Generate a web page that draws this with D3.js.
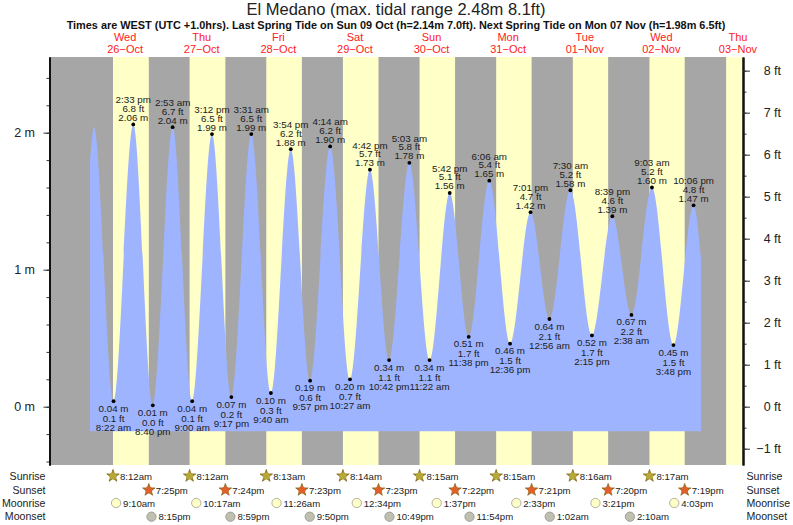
<!DOCTYPE html>
<html lang="en">

<head>
  <meta charset="UTF-8">
  <title>El Medano tide chart</title>
  <script src="https://d3js.org/d3.v7.min.js"></script>
  <style>
    html, body {
      margin: 0;
      background-color: white;
    }

    svg {
      display: block;
    }

    text {
      font-family: "Liberation Sans", Helvetica, Arial, sans-serif;
    }
  </style>
</head>

<body>
  <div id="chart"></div>

<script>
  // high and low waters (times are local WEST)
  const tideTimes = [
    "2022-10-26 08:22", "2022-10-26 14:33", "2022-10-26 20:40",
    "2022-10-27 02:53", "2022-10-27 09:00", "2022-10-27 15:12", "2022-10-27 21:17",
    "2022-10-28 03:31", "2022-10-28 09:40", "2022-10-28 15:54", "2022-10-28 21:57",
    "2022-10-29 04:14", "2022-10-29 10:27", "2022-10-29 16:42", "2022-10-29 22:42",
    "2022-10-30 05:03", "2022-10-30 11:22", "2022-10-30 17:42", "2022-10-30 23:38",
    "2022-10-31 06:06", "2022-10-31 12:36", "2022-10-31 19:01",
    "2022-11-01 00:56", "2022-11-01 07:30", "2022-11-01 14:15", "2022-11-01 20:39",
    "2022-11-02 02:38", "2022-11-02 09:03", "2022-11-02 15:48", "2022-11-02 22:06"
  ];
  const tideMetres = [
    0.04, 2.06, 0.01, 2.04, 0.04, 1.99, 0.07, 1.99, 0.10, 1.88,
    0.19, 1.90, 0.20, 1.73, 0.34, 1.78, 0.34, 1.56, 0.51, 1.65,
    0.46, 1.42, 0.64, 1.58, 0.52, 1.39, 0.67, 1.60, 0.45, 1.47
  ];
  const tideFeet = [
    0.1, 6.8, 0.0, 6.7, 0.1, 6.5, 0.2, 6.5, 0.3, 6.2,
    0.6, 6.2, 0.7, 5.7, 1.1, 5.8, 1.1, 5.1, 1.7, 5.4,
    1.5, 4.7, 2.1, 5.2, 1.7, 4.6, 2.2, 5.2, 1.5, 4.8
  ];
  // the curve starts and stops between tides, these are not labelled
  const curveStartTimes = ["2022-10-26 01:00", "2022-10-26 02:15"];
  const curveStartMetres = [1.80, 2.04];
  const curveEndTimes = ["2022-11-03 00:26"];
  const curveEndMetres = [1.08];
  const curveFloorMetres = -0.18;

  const dayNames = ["Wed", "Thu", "Fri", "Sat", "Sun", "Mon", "Tue", "Wed", "Thu"];
  const dayDates = ["26−Oct", "27−Oct", "28−Oct", "29−Oct", "30−Oct", "31−Oct", "01−Nov", "02−Nov", "03−Nov"];
  const dayNoons = [
    "2022-10-26 12:00", "2022-10-27 12:00", "2022-10-28 12:00", "2022-10-29 12:00", "2022-10-30 12:00",
    "2022-10-31 12:00", "2022-11-01 12:00", "2022-11-02 12:00", "2022-11-03 12:00"
  ];

  const sunrises = [
    "2022-10-26 08:12", "2022-10-27 08:12", "2022-10-28 08:13", "2022-10-29 08:14",
    "2022-10-30 08:15", "2022-10-31 08:15", "2022-11-01 08:16", "2022-11-02 08:17"
  ];
  const sunsets = [
    "2022-10-26 19:25", "2022-10-27 19:24", "2022-10-28 19:23", "2022-10-29 19:23",
    "2022-10-30 19:22", "2022-10-31 19:21", "2022-11-01 19:20", "2022-11-02 19:19"
  ];
  const lastSunrise = "2022-11-03 08:18";
  const moonrises = [
    "2022-10-26 09:10", "2022-10-27 10:17", "2022-10-28 11:26", "2022-10-29 12:34",
    "2022-10-30 13:37", "2022-10-31 14:33", "2022-11-01 15:21", "2022-11-02 16:03"
  ];
  const moonsets = [
    "2022-10-26 20:15", "2022-10-27 20:59", "2022-10-28 21:50", "2022-10-29 22:49",
    "2022-10-30 23:54", "2022-11-01 01:02", "2022-11-02 02:10"
  ];

  const metreTicks = [0, 1, 2];
  const metreMinorTicks = d3.range(-4, 25, 2).map(d => d / 10);
  const feetTicks = [-1, 0, 1, 2, 3, 4, 5, 6, 7, 8];
  const feetMinorTicks = d3.range(-1, 8.5, 0.5);

  const title = "El Medano (max. tidal range 2.48m 8.1ft)";
  const subtitle = "Times are WEST (UTC +1.0hrs). Last Spring Tide on Sun 09 Oct (h=2.14m 7.0ft). Next Spring Tide on Mon 07 Nov (h=1.98m 6.5ft)";

  const width = 793, height = 525;
  const plot = { left: 49.5, right: 743, top: 57, bottom: 465 };

  const parse = d3.utcParse("%Y-%m-%d %H:%M");
  const clockShort = d3.utcFormat("%-I:%M%p");
  const clockLong = d3.utcFormat("%-I:%M %p");
  const lower = s => s.toLowerCase();

  let svg = d3.select("#chart")
    .append("svg")
    .attr("width", width)
    .attr("height", height);

  let x = d3.scaleUtc()
    .domain([parse("2022-10-25 12:18"), parse("2022-11-03 13:35")])
    .range([plot.left, plot.right]);

  let yM = d3.scaleLinear()
    .domain([-0.4255, 2.5525])
    .range([plot.bottom, plot.top]);

  let yFt = d3.scaleLinear()
    .domain([-1.388, 8.325])
    .range([plot.bottom, plot.top]);

  // night background and daylight bands
  svg.append("rect")
    .attr("x", plot.left)
    .attr("y", plot.top)
    .attr("width", plot.right - plot.left)
    .attr("height", plot.bottom - plot.top)
    .attr("fill", "#a6a6a6");

  svg.selectAll("rect.day")
    .data(sunrises)
    .enter()
    .append("rect")
    .attr("class", "day")
    .attr("x", d => x(parse(d)))
    .attr("y", plot.top)
    .attr("width", (d, i) => x(parse(sunsets[i])) - x(parse(d)))
    .attr("height", plot.bottom - plot.top)
    .attr("fill", "#ffffc8");

  svg.append("rect")
    .attr("x", x(parse(lastSunrise)))
    .attr("y", plot.top)
    .attr("width", plot.right - x(parse(lastSunrise)))
    .attr("height", plot.bottom - plot.top)
    .attr("fill", "#ffffc8");

  // tide curve
  const curveTimes = curveStartTimes.concat(tideTimes, curveEndTimes);
  const curveMetres = curveStartMetres.concat(tideMetres, curveEndMetres);

  let area = d3.area()
    .x(d => x(parse(curveTimes[d])))
    .y0(yM(curveFloorMetres))
    .y1(d => yM(curveMetres[d]))
    .curve(d3.curveMonotoneX);

  svg.append("path")
    .attr("d", area(d3.range(curveTimes.length)))
    .attr("fill", "#9fb4ff");

  // dots and their three line labels
  svg.selectAll("circle.tide")
    .data(tideTimes)
    .enter()
    .append("circle")
    .attr("class", "tide")
    .attr("cx", d => x(parse(d)))
    .attr("cy", (d, i) => yM(tideMetres[i]))
    .attr("r", 1.9)
    .attr("fill", "black");

  const isHigh = i => i % 2 == 1;

  function tideLabel(dy, text) {
    svg.append("g")
      .selectAll("text")
      .data(tideTimes)
      .enter()
      .append("text")
      .attr("x", d => x(parse(d)))
      .attr("y", (d, i) => yM(tideMetres[i]) + dy(i))
      .attr("text-anchor", "middle")
      .attr("font-size", 9.8)
      .attr("fill", "#1c1c1c")
      .text(text);
  }

  tideLabel(i => isHigh(i) ? -3.5 : 10.5, (d, i) => tideMetres[i].toFixed(2) + " m");
  tideLabel(i => isHigh(i) ? -12.5 : 20.5, (d, i) => tideFeet[i].toFixed(1) + " ft");
  tideLabel(i => isHigh(i) ? -21 : 29.5, d => lower(clockLong(parse(d))));

  // axes
  function styleAxis(g) {
    g.selectAll("path").attr("stroke", "#111").attr("stroke-width", 2);
    g.selectAll("line").attr("stroke", "#333");
  }

  svg.append("g")
    .attr("transform", `translate(${plot.left},0)`)
    .call(d3.axisLeft(yM).tickValues(metreMinorTicks).tickSize(3).tickSizeOuter(0).tickFormat(""))
    .call(styleAxis);

  svg.append("g")
    .attr("transform", `translate(${plot.left},0)`)
    .call(d3.axisLeft(yM).tickValues(metreTicks).tickSize(6).tickSizeOuter(0).tickFormat(d => d + " m"))
    .call(styleAxis)
    .call(g => g.selectAll("text")
      .attr("x", -14.5)
      .attr("font-size", 12.5)
      .attr("font-family", null)
      .attr("fill", "#222"));

  svg.append("g")
    .attr("transform", `translate(${plot.right},0)`)
    .call(d3.axisRight(yFt).tickValues(feetMinorTicks).tickSize(3.5).tickSizeOuter(0).tickFormat(""))
    .call(styleAxis);

  svg.append("g")
    .attr("transform", `translate(${plot.right},0)`)
    .call(d3.axisRight(yFt).tickValues(feetTicks).tickSize(7).tickSizeOuter(0)
      .tickFormat(d => (d < 0 ? "−" + Math.abs(d) : d) + " ft"))
    .call(styleAxis)
    .call(g => g.selectAll("text")
      .attr("x", 38)
      .attr("text-anchor", "end")
      .attr("font-size", 12.5)
      .attr("font-family", null)
      .attr("fill", "#222"));

  // titles
  svg.append("text")
    .attr("x", 396)
    .attr("y", 15)
    .attr("text-anchor", "middle")
    .attr("font-size", 16.5)
    .attr("fill", "#222")
    .text(title);

  svg.append("text")
    .attr("x", 396)
    .attr("y", 29)
    .attr("text-anchor", "middle")
    .attr("font-size", 10.9)
    .attr("font-weight", "bold")
    .attr("fill", "#111")
    .text(subtitle);

  svg.selectAll("text.dayname")
    .data(dayNoons)
    .enter()
    .append("text")
    .attr("class", "dayname")
    .attr("x", d => x(parse(d)))
    .attr("y", 41)
    .attr("text-anchor", "middle")
    .attr("font-size", 11)
    .attr("fill", "#ff2020")
    .text((d, i) => dayNames[i]);

  svg.selectAll("text.daydate")
    .data(dayNoons)
    .enter()
    .append("text")
    .attr("class", "daydate")
    .attr("x", d => x(parse(d)))
    .attr("y", 53)
    .attr("text-anchor", "middle")
    .attr("font-size", 11)
    .attr("fill", "#ff2020")
    .text((d, i) => dayDates[i]);

  // sun and moon rows
  const rowLabels = ["Sunrise", "Sunset", "Moonrise", "Moonset"];
  const rowY = [476, 490, 503, 516.7];

  function rowNames(xPos, anchor) {
    svg.append("g")
      .selectAll("text")
      .data(rowLabels)
      .enter()
      .append("text")
      .attr("x", xPos)
      .attr("y", (d, i) => rowY[i] + 3.7)
      .attr("text-anchor", anchor)
      .attr("font-size", 10.6)
      .attr("fill", "#222")
      .text(d => d);
  }
  rowNames(45.5, "end");
  rowNames(746.5, "start");

  function eventRow(times, row, marks) {
    let g = svg.append("g");
    marks.forEach(m => {
      g.append("g")
        .selectAll("path")
        .data(times)
        .enter()
        .append("path")
        .attr("d", m.symbol)
        .attr("transform", d => `translate(${x(parse(d))},${rowY[row]})`)
        .attr("fill", m.fill)
        .attr("stroke", m.stroke)
        .attr("stroke-width", 0.8);
    });
    g.append("g")
      .selectAll("text")
      .data(times)
      .enter()
      .append("text")
      .attr("x", d => x(parse(d)) + 7)
      .attr("y", rowY[row] + 3.7)
      .attr("font-size", 9.6)
      .attr("fill", "#222")
      .text(d => lower(clockShort(parse(d))));
  }

  // the sun marks are a star with a round middle on top
  const star = d3.symbol().type(d3.symbolStar).size(48)();
  const sunDisc = d3.symbol().type(d3.symbolCircle).size(40)();
  const moon = d3.symbol().type(d3.symbolCircle).size(68)();

  eventRow(sunrises, 0, [
    { symbol: star, fill: "#a08a2a", stroke: "#8a6a20" },
    { symbol: sunDisc, fill: "#b5a838", stroke: "none" }
  ]);
  eventRow(sunsets, 1, [
    { symbol: star, fill: "#b06a28", stroke: "#8a6a20" },
    { symbol: sunDisc, fill: "#e0602a", stroke: "none" }
  ]);
  eventRow(moonrises, 2, [{ symbol: moon, fill: "#ffffc8", stroke: "#a0a090" }]);
  eventRow(moonsets, 3, [{ symbol: moon, fill: "#c0c0b0", stroke: "#909088" }]);
</script>
</body>

</html>
